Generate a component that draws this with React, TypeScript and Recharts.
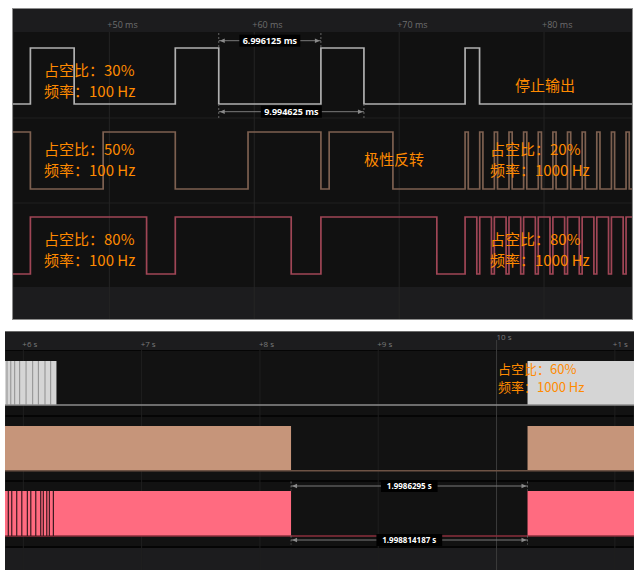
import React from "react";
import {
  LineChart,
  Line,
  ComposedChart,
  Area,
  XAxis,
  YAxis,
  CartesianGrid,
  ReferenceLine,
} from "recharts";

// ---- top capture (ms) ----
const TOP_TICKS = [50, 60, 70, 80];
const TOP_TICK_LABELS = ["+50 ms", "+60 ms", "+70 ms", "+80 ms"];
const TOP_DOMAIN: [number, number] = [43.35, 86.07];

// [time, level]
const TOP_WHITE = [
  [43.35, 0], [44.55, 1], [47.57, 0], [54.55, 1], [57.55, 0], [64.6, 1],
  [67.57, 0], [74.55, 1], [75.55, 0], [86.07, 0],
];
const TOP_BROWN = [
  [43.35, 1], [44.55, 0], [49.57, 1], [54.55, 0], [59.57, 1], [64.6, 0],
  [65.17, 1], [69.57, 0], [74.55, 1], [74.77, 0], [75.56, 1], [75.78, 0],
  [76.57, 1], [76.79, 0], [77.58, 1], [77.8, 0], [78.59, 1], [78.81, 0],
  [79.6, 1], [79.82, 0], [80.61, 1], [80.83, 0], [81.62, 1], [81.84, 0],
  [82.63, 1], [82.85, 0], [83.64, 1], [83.86, 0], [84.65, 1], [84.87, 0],
  [85.66, 1], [85.88, 0], [86.07, 0],
];
const TOP_PINK = [
  [43.35, 0], [44.55, 1], [52.57, 0], [54.55, 1], [62.55, 0], [64.6, 1],
  [72.6, 0], [74.55, 1], [75.36, 0], [75.56, 1], [76.37, 0], [76.57, 1],
  [77.38, 0], [77.58, 1], [78.39, 0], [78.59, 1], [79.4, 0], [79.6, 1],
  [80.41, 0], [80.61, 1], [81.42, 0], [81.62, 1], [82.43, 0], [82.63, 1],
  [83.44, 0], [83.64, 1], [84.45, 0], [84.65, 1], [85.46, 0], [85.66, 1],
  [86.07, 1],
];
const TOP_MEASURES = [
  { from: 57.55, to: 64.6, text: "6.996125 ms" },
  { from: 57.55, to: 67.57, text: "9.994625 ms" },
];

// ---- bottom capture (s) ----
const BOT_TICKS = [6, 7, 8, 9, 10, 11];
const BOT_TICK_LABELS = ["+6 s", "+7 s", "+8 s", "+9 s", "10 s", "+1 s"];
const BOT_DOMAIN: [number, number] = [5.845, 11.162];

const BOT_WHITE = [[5.845, 1], [6.28, 0], [10.262, 1], [11.162, 1]];
const BOT_BROWN = [[5.845, 1], [8.263, 0], [10.262, 1], [11.162, 1]];
const BOT_PINK = [[5.845, 1], [8.263, 0], [10.262, 1], [11.162, 1]];
const WHITE_STRIPES = [5.862, 5.894, 5.927, 5.969, 6.023, 6.079, 6.127, 6.183, 6.231];
const PINK_STRIPES = [5.873, 5.902, 5.944, 5.987, 6.034, 6.063, 6.105, 6.147, 6.169, 6.198, 6.22, 6.254];
const BOT_MEASURES = [
  { from: 8.263, to: 10.262, text: "1.9986295 s" },
  { from: 8.263, to: 10.262, text: "1.998814187 s" },
];

const toSeries = (edges: number[][], hi: number, lo: number) =>
  edges.map(([t, l]) => ({ t, v: l ? hi : lo }));

const ORANGE = "#ff8a00";
const CJK = '"Noto Sans CJK SC", "Noto Sans", sans-serif';

function MeasureLabel(props: any) {
  const vb = props.viewBox || { x: 0, y: 0, width: 0 };
  const { x, y, width } = vb;
  const cx = x + width / 2;
  const w = props.text.length * props.cw + 6;
  return (
    <g>
      <path d={`M${x + 1},${y} l5,-2.2 v4.4 z`} fill="#8a8a8a" />
      <path d={`M${x + width - 1},${y} l-5,-2.2 v4.4 z`} fill="#8a8a8a" />
      <rect x={cx - w / 2} y={y - 6} width={w} height={12} fill="#000" />
      <text
        x={cx}
        y={y + 3.2}
        textAnchor="middle"
        fill="#fff"
        fontSize={props.fs}
        fontWeight="bold"
        fontFamily='"Open Sans", sans-serif'
      >
        {props.text}
      </text>
    </g>
  );
}

const TopTick = (p: any) => {
  const i = TOP_TICKS.indexOf(p.payload.value);
  return (
    <text x={p.x - 2} y={19} fill="#6e6e6e" fontSize={9} fontFamily='"Open Sans", sans-serif'>
      {TOP_TICK_LABELS[i]}
    </text>
  );
};

const BotTick = (p: any) => {
  const i = BOT_TICKS.indexOf(p.payload.value);
  const major = i === 4;
  return (
    <g>
      {major && <line x1={p.x} x2={p.x} y1={9} y2={19} stroke="#3a3a3a" />}
      <text
        x={p.x + (i === 5 ? -2 : major ? 0 : -1)}
        y={major ? 8.5 : 16}
        fill="#7a7a7a"
        fontSize={8}
        fontFamily='"Open Sans", sans-serif'
      >
        {BOT_TICK_LABELS[i]}
      </text>
    </g>
  );
};

function Note({ left, top, lines, size = 15, lh = 21 }: any) {
  return (
    <div
      style={{
        position: "absolute",
        left,
        top,
        color: ORANGE,
        fontFamily: CJK,
        fontSize: size,
        lineHeight: `${lh}px`,
        whiteSpace: "nowrap",
        pointerEvents: "none",
      }}
    >
      {lines.map((l: string, i: number) => (
        <div key={i}>{l}</div>
      ))}
    </div>
  );
}

const band = (top: number, height: number, bg: string): React.CSSProperties => ({
  position: "absolute",
  left: 0,
  right: 0,
  top,
  height,
  background: bg,
});

function TopPanel() {
  const W = 619;
  const H = 310;
  // plot starts 23px below panel top; y values are px from plot top
  const rows = [
    { hi: 16, lo: 72, color: "#b0b0b0", data: TOP_WHITE },
    { hi: 100, lo: 157, color: "#7d6050", data: TOP_BROWN },
    { hi: 185, lo: 242, color: "#a04656", data: TOP_PINK },
  ];
  return (
    <div
      style={{
        position: "absolute",
        left: 12,
        top: 8,
        width: W,
        height: H,
        border: "1px solid #8c8c8c",
        background: "#1c1c1e",
      }}
    >
      <div style={band(23, 85, "#111111")} />
      <div style={band(108, 2, "#181818")} />
      <div style={band(110, 83, "#111111")} />
      <div style={band(193, 2, "#181818")} />
      <div style={band(195, 83, "#111111")} />
      <div style={{ position: "absolute", left: 0, top: 0 }}>
        <LineChart width={W} height={H} margin={{ top: 0, right: 0, bottom: 0, left: 0 }}>
          <CartesianGrid horizontal={false} stroke="#242424" />
          <XAxis
            dataKey="t"
            type="number"
            orientation="top"
            domain={TOP_DOMAIN}
            ticks={TOP_TICKS}
            height={23}
            axisLine={false}
            tickLine={false}
            tick={<TopTick />}
            allowDataOverflow
          />
          <YAxis hide type="number" domain={[0, 287]} reversed />
          {rows.map((r, i) => (
            <Line
              key={i}
              data={toSeries(r.data, r.hi, r.lo)}
              dataKey="v"
              type="stepAfter"
              stroke={r.color}
              strokeWidth={1.7}
              dot={false}
              isAnimationActive={false}
            />
          ))}
          {[TOP_MEASURES[0].from, TOP_MEASURES[0].to].map((x, i) => (
            <ReferenceLine
              key={"a" + i}
              segment={[{ x, y: 1 }, { x, y: 15 }]}
              stroke="#666"
              strokeDasharray="2 2"
            />
          ))}
          {[TOP_MEASURES[1].from, TOP_MEASURES[1].to].map((x, i) => (
            <ReferenceLine
              key={"b" + i}
              segment={[{ x, y: 72 }, { x, y: 86 }]}
              stroke="#666"
              strokeDasharray="2 2"
            />
          ))}
          {TOP_MEASURES.map((m, i) => {
            const y = i === 0 ? 8.7 : 79.7;
            return (
              <ReferenceLine
                key={"m" + i}
                segment={[{ x: m.from, y }, { x: m.to, y }]}
                stroke="#7a7a7a"
                label={<MeasureLabel text={m.text} cw={5} fs={9} />}
              />
            );
          })}
        </LineChart>
      </div>
      <Note left={31} top={50} lines={["占空比：30%", "频率：100 Hz"]} />
      <Note left={31} top={129} lines={["占空比：50%", "频率：100 Hz"]} />
      <Note left={31} top={219} lines={["占空比：80%", "频率：100 Hz"]} />
      <Note left={351} top={139} lines={["极性反转"]} />
      <Note left={502} top={65} lines={["停止输出"]} />
      <Note left={477} top={129} lines={["占空比：20%", "频率：1000 Hz"]} />
      <Note left={477} top={219} lines={["占空比：80%", "频率：1000 Hz"]} />
    </div>
  );
}

function BottomPanel() {
  const W = 629;
  const H = 239;
  // plot starts 19px below panel top
  const rows = [
    { hi: 11, lo: 55, fill: "#d5d5d5", base: "#8c8c8c", data: BOT_WHITE },
    { hi: 76, lo: 120.7, fill: "#c6957a", base: "#6e5345", data: BOT_BROWN },
    { hi: 141, lo: 186, fill: "#ff6b80", base: "#8b2f3c", data: BOT_PINK },
  ];
  return (
    <div
      style={{
        position: "absolute",
        left: 5,
        top: 331,
        width: W,
        height: H,
        background: "#1c1c1e",
        borderTop: "1px solid #6a6a6a",
        boxSizing: "border-box",
      }}
    >
      <div style={band(18, 196, "#121212")} />
      <div style={band(18, 1, "#050505")} />
      <div style={band(83, 1.5, "#050505")} />
      <div style={band(148, 1.5, "#050505")} />
      <div style={band(214, 1.5, "#050505")} />
      <div style={{ position: "absolute", left: 0, top: -1 }}>
        <ComposedChart width={W} height={H} margin={{ top: 0, right: 0, bottom: 0, left: 0 }}>
          <CartesianGrid horizontal={false} stroke="#1f1f1f" />
          <XAxis
            dataKey="t"
            type="number"
            orientation="top"
            domain={BOT_DOMAIN}
            ticks={BOT_TICKS}
            height={19}
            axisLine={false}
            tickLine={false}
            tick={<BotTick />}
            allowDataOverflow
          />
          <YAxis hide type="number" domain={[0, 220]} reversed />
          <ReferenceLine x={10} stroke="#3a3a3a" />
          {rows.map((r, i) => (
            <ReferenceLine key={"base" + i} y={r.lo} stroke={r.base} strokeWidth={1.5} />
          ))}
          {rows.map((r, i) => (
            <Area
              key={i}
              data={toSeries(r.data, r.hi, r.lo)}
              dataKey="v"
              type="stepAfter"
              baseValue={r.lo}
              fill={r.fill}
              fillOpacity={1}
              stroke="none"
              dot={false}
              activeDot={false}
              isAnimationActive={false}
            />
          ))}
          {WHITE_STRIPES.map((x, i) => (
            <ReferenceLine
              key={"ws" + i}
              segment={[{ x, y: rows[0].hi }, { x, y: rows[0].lo }]}
              stroke="#8f8f8f"
              strokeWidth={1}
            />
          ))}
          {PINK_STRIPES.map((x, i) => (
            <ReferenceLine
              key={"ps" + i}
              segment={[{ x, y: rows[2].hi }, { x, y: rows[2].lo }]}
              stroke="#3a1a20"
              strokeWidth={1.2}
            />
          ))}
          {BOT_MEASURES.map((m, i) => {
            const y = i === 0 ? 136 : 190;
            return (
              <React.Fragment key={"bm" + i}>
                <ReferenceLine
                  segment={[{ x: m.from, y: y - 4.5 }, { x: m.from, y: y + 4.5 }]}
                  stroke="#666"
                  strokeDasharray="2 2"
                />
                <ReferenceLine
                  segment={[{ x: m.to, y: y - 4.5 }, { x: m.to, y: y + 4.5 }]}
                  stroke="#666"
                  strokeDasharray="2 2"
                />
                <ReferenceLine
                  segment={[{ x: m.from, y }, { x: m.to, y }]}
                  stroke="#7a7a7a"
                  label={<MeasureLabel text={m.text} cw={4.6} fs={8} />}
                />
              </React.Fragment>
            );
          })}
        </ComposedChart>
      </div>
      <Note left={493} top={28} size={13} lh={18} lines={["占空比：60%", "频率：1000 Hz"]} />
    </div>
  );
}

export default function App() {
  return (
    <div style={{ position: "absolute", left: 0, top: 0, width: 644, height: 581, background: "#fff" }}>
      <TopPanel />
      <BottomPanel />
    </div>
  );
}
